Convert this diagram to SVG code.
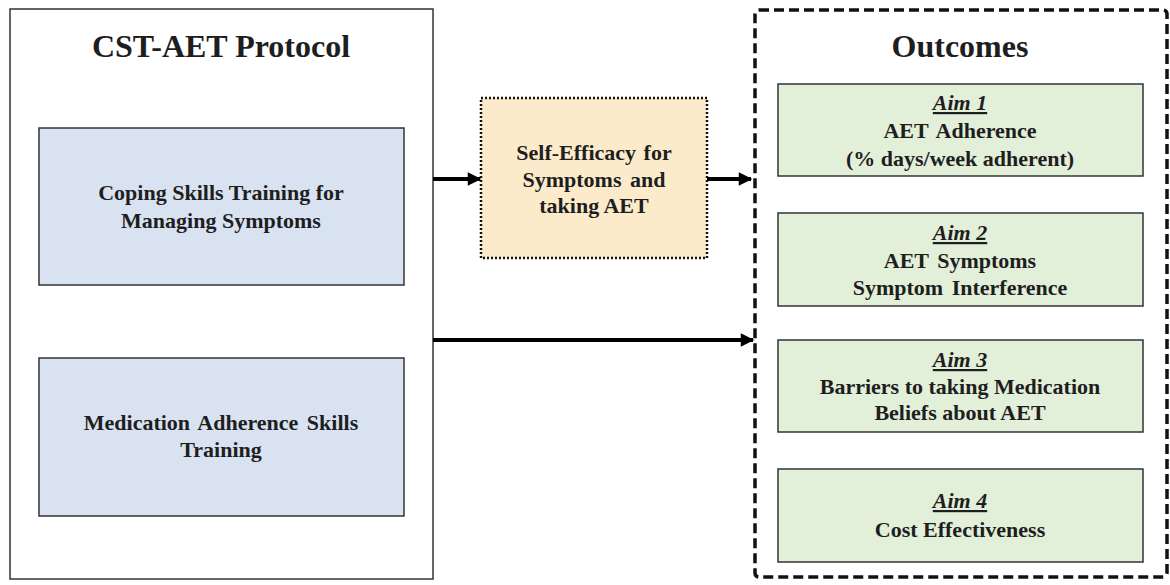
<svg xmlns="http://www.w3.org/2000/svg" width="1170" height="585" viewBox="0 0 1170 585">
<style>
text{font-family:"Liberation Serif","Times New Roman",serif;font-weight:bold;fill:#1e1e1e;text-anchor:middle}
.title{font-size:32px}
.t{font-size:22px}
.aim{font-size:22px;font-style:italic;text-decoration:underline}
.blue{fill:#d9e2f1;stroke:#333;stroke-width:1.5}
.green{fill:#e2efd9;stroke:#333;stroke-width:1.5}
.conn{stroke:#000;stroke-width:4;fill:none;marker-end:url(#ah)}
</style>
<defs>
<marker id="ah" viewBox="0 0 10 10" refX="9" refY="5" markerWidth="3.6" markerHeight="3.4" orient="auto" markerUnits="strokeWidth">
<path d="M0,0 L10,5 L0,10 Z" fill="#000"/>
</marker>
</defs>
<rect width="1170" height="585" fill="#fff"/>
<g id="protocol">
<rect x="10" y="9" width="423" height="570" fill="#fff" stroke="#333" stroke-width="1.5"/>
<text class="title" x="221" y="57">CST-AET Protocol</text>
</g>
<g id="coping">
<rect class="blue" x="39" y="128" width="365" height="157"/>
<text class="t" x="221" y="200">Coping Skills Training for</text>
<text class="t" x="221" y="228">Managing Symptoms</text>
</g>
<g id="medication">
<rect class="blue" x="39" y="358" width="365" height="158"/>
<text class="t" x="221" y="430" word-spacing="3">Medication Adherence Skills</text>
<text class="t" x="221" y="457">Training</text>
</g>
<g id="selfefficacy">
<rect x="481" y="98" width="226" height="160" fill="#fcebcb" stroke="#111" stroke-width="2.5" stroke-dasharray="2 2"/>
<text class="t" x="594" y="160" word-spacing="2">Self-Efficacy for</text>
<text class="t" x="594" y="187" word-spacing="3">Symptoms and</text>
<text class="t" x="594" y="213">taking AET</text>
</g>
<g id="outcomes">
<rect x="755" y="10" width="412" height="567" rx="4" fill="#fff" stroke="#111" stroke-width="3.5" stroke-dasharray="10 5"/>
<text class="title" x="960" y="57">Outcomes</text>
</g>
<g id="aim1">
<rect class="green" x="778" y="84" width="365" height="92"/>
<text class="aim" x="960" y="110">Aim 1</text>
<text class="t" x="960" y="138" word-spacing="3">AET Adherence</text>
<text class="t" x="960" y="166">(% days/week adherent)</text>
</g>
<g id="aim2">
<rect class="green" x="778" y="213" width="365" height="93"/>
<text class="aim" x="960" y="240">Aim 2</text>
<text class="t" x="960" y="268" word-spacing="3">AET Symptoms</text>
<text class="t" x="960" y="295" word-spacing="3">Symptom Interference</text>
</g>
<g id="aim3">
<rect class="green" x="778" y="340" width="365" height="92"/>
<text class="aim" x="960" y="367">Aim 3</text>
<text class="t" x="960" y="394">Barriers to taking Medication</text>
<text class="t" x="960" y="420">Beliefs about AET</text>
</g>
<g id="aim4">
<rect class="green" x="778" y="469" width="365" height="93"/>
<text class="aim" x="960" y="508">Aim 4</text>
<text class="t" x="960" y="537">Cost Effectiveness</text>
</g>
<g id="connectors">
<line class="conn" x1="433" y1="179" x2="480" y2="179"/>
<line class="conn" x1="707" y1="179" x2="751" y2="179"/>
<line class="conn" x1="433" y1="340" x2="753" y2="340"/>
</g>
</svg>
